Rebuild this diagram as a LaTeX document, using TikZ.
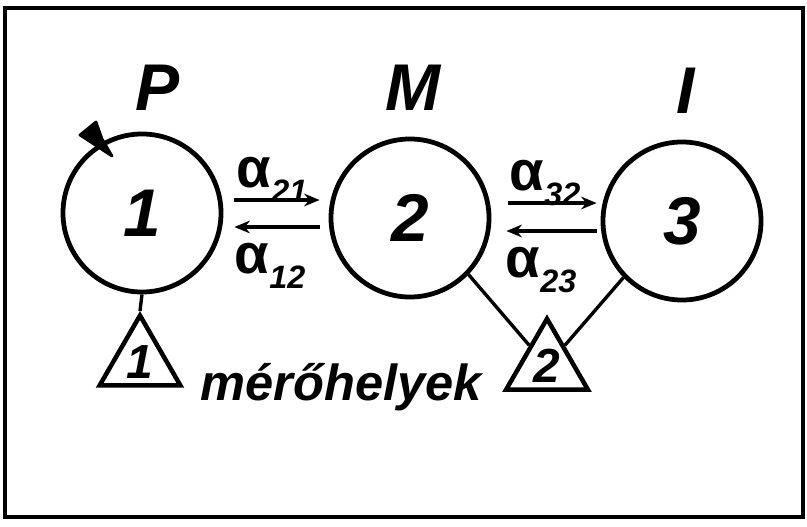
\documentclass[tikz,border=0pt]{standalone}
\usepackage{fontspec}
\setmainfont{Liberation Sans}
\usetikzlibrary{positioning, calc, arrows.meta, shapes.geometric}
\tikzset{
	compartment/.style={circle, draw, line width=3.4pt, minimum size=3.95cm, inner sep=0pt,
		font=\fontsize{48}{48}\selectfont\bfseries\itshape}
}
\tikzset{
	site/.style={regular polygon, regular polygon sides=3, draw, line width=3.2pt,
		minimum size=2.2cm, inner sep=0pt, font=\fontsize{34}{34}\selectfont\bfseries\itshape}
}
\tikzset{
	flow/.style={line width=2.4pt, -{Stealth[length=11pt,width=9pt]}},
	rate/.style={font=\fontsize{40}{40}\selectfont\bfseries},
	heading/.style={font=\fontsize{47}{47}\selectfont\bfseries\itshape}
}
\newcommand{\rt}[1]{α\raisebox{-0.5ex}{\fontsize{23}{23}\selectfont\itshape #1}}

\begin{document}
\begin{tikzpicture}[x=0.025cm, y=-0.025cm]
      \useasboundingbox (0,0) rectangle (807,526);
      % frame
      \draw[line width=3.4pt] (5,8) rectangle (803,517);
      % compartments
      \node[compartment] (c1) at (142,213) {1};
      \node[compartment] (c2) at (410,218) {2};
      \node[compartment] (c3) at (682,221) {3};
      \node[heading] (hp) at (158,88) {P};
      \node[heading] (hm) at (413,88) {M};
      \node[heading] (hi) at (686,91) {I};
      % loss from 1
      \filldraw[line width=2pt, line join=round] (80,135) -- (96,122) -- (102,139) -- (112,156) -- cycle;
      % exchange arrows
      \draw[flow] ($(c1.east |- 0,200)+(11,0)$) coordinate (a21s) -- ($(c2.west |- 0,200)+(-9,0)$) coordinate (a21e);
      \draw[flow] ($(c2.west |- 0,227)+(-9,0)$) coordinate (a12s) -- ($(c1.east |- 0,227)+(11,0)$) coordinate (a12e);
      \draw[flow] ($(c2.east |- 0,203)+(17,0)$) coordinate (a32s) -- ($(c3.west |- 0,203)+(-4,0)$) coordinate (a32e);
      \draw[flow] ($(c3.west |- 0,231)+(-4,0)$) coordinate (a23s) -- ($(c2.east |- 0,231)+(15,0)$) coordinate (a23e);
      \node[rate] (l21) at (272,180) {\rt{21}};
      \node[rate] (l12) at (270,266) {\rt{12}};
      \node[rate] (l32) at (545,183) {\rt{32}};
      \node[rate] (l23) at (541,270) {\rt{23}};
      % measuring sites
      \node[site] (t1) at (140,362) {1};
      \node[site] (t2) at (547,366) {2};
      \draw[line width=2.4pt] (c1.south) -- (t1.corner 1);
      \draw[line width=2.4pt] (c2.-44) -- (t2);
      \draw[line width=2.4pt] (c3.-136) -- (t2);
      \node[font=\fontsize{36}{36}\selectfont\bfseries\itshape] (mh) at (341,387) {mérőhelyek};
    \end{tikzpicture}
\end{document}
